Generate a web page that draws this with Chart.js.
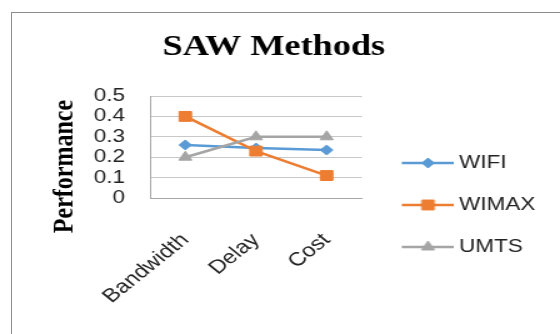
<!DOCTYPE html>
<html>
<head>
<meta charset="utf-8">
<script src="https://cdn.jsdelivr.net/npm/chart.js@4.4.1/dist/chart.umd.min.js"></script>
<style>
    html, body { margin: 0; padding: 0; background: #fff; }
    body { width: 560px; height: 334px; overflow: hidden; position: relative; }
    .frame { position: absolute; left: 11px; top: 12px; width: 600px; height: 400px; border: 1px solid #8c8c8c; }
    /* the source picture is stretched sideways, so the chart is too */
    .stretch { position: absolute; left: 0; top: 0; width: 448px; height: 334px; transform: scaleX(1.25); transform-origin: 0 0; }
</style>
</head>
<body>
<div class="frame"></div>
<div class="stretch"><canvas id="sawChart"></canvas></div>
<script>
const categories = ['Bandwidth', 'Delay', 'Cost'];
const wifiValues = [0.26, 0.245, 0.235];
const wimaxValues = [0.4, 0.23, 0.11];
const umtsValues = [0.2, 0.3, 0.3];
const yTicks = [0, 0.1, 0.2, 0.3, 0.4, 0.5];

const textColor = '#222';

// legend icon: short line with the marker in the middle
function legendIcon(ds) {
    const c = document.createElement('canvas');
    c.width = 55;
    c.height = 16;
    const ctx = c.getContext('2d');
    ctx.strokeStyle = ds.borderColor;
    ctx.lineWidth = 2.5;
    ctx.beginPath();
    ctx.moveTo(13, 8);
    ctx.lineTo(55, 8);
    ctx.stroke();
    ctx.fillStyle = ds.borderColor;
    ctx.lineWidth = 1;
    Chart.helpers.drawPoint(ctx, {
        pointStyle: ds.pointStyle,
        radius: ds.pointRadius,
        borderWidth: 1,
        rotation: 0
    }, 34, 8);
    return c;
}

// y axis title sits a bit below the middle of the plot
const axisTitle = {
    id: 'axisTitle',
    afterDraw(chart) {
        const ctx = chart.ctx;
        ctx.save();
        ctx.translate(52, 166.5);
        ctx.rotate(-Math.PI / 2);
        ctx.font = 'bold 24px "Liberation Serif"';
        ctx.fillStyle = '#000';
        ctx.textAlign = 'center';
        ctx.textBaseline = 'middle';
        ctx.fillText('Performance', 0, 0);
        ctx.restore();
    }
};

const ctx = document.getElementById('sawChart').getContext('2d');
const sawChart = new Chart(ctx, {
    type: 'line',
    data: {
        labels: categories,
        datasets: [
            {
                label: 'WIFI',
                data: wifiValues,
                borderColor: '#5B9BD5',
                backgroundColor: '#5B9BD5',
                borderWidth: 2.5,
                pointStyle: 'rectRot',
                pointRadius: 5,
                pointBorderWidth: 1,
                order: 3
            },
            {
                label: 'WIMAX',
                data: wimaxValues,
                borderColor: '#ED7D31',
                backgroundColor: '#ED7D31',
                borderWidth: 2.5,
                pointStyle: 'rect',
                pointRadius: 7,
                pointBorderWidth: 1,
                order: 2
            },
            {
                label: 'UMTS',
                data: umtsValues,
                borderColor: '#A5A5A5',
                backgroundColor: '#A5A5A5',
                borderWidth: 2.5,
                pointStyle: 'triangle',
                pointRadius: 6,
                pointBorderWidth: 1,
                order: 1
            }
        ]
    },
    options: {
        responsive: true,
        maintainAspectRatio: false,
        animation: false,
        events: [],
        layout: {
            padding: { right: 9.8, bottom: 0 }
        },
        scales: {
            x: {
                offset: true,
                grid: { display: false, drawTicks: false },
                border: { display: true, color: '#a6a6a6' },
                ticks: {
                    minRotation: 45,
                    maxRotation: 45,
                    padding: 31,
                    color: textColor,
                    font: { family: 'Liberation Sans', size: 19 }
                },
                afterFit: function(scale) {
                    scale.height = 136;
                }
            },
            y: {
                min: 0,
                max: 0.5,
                grid: { color: '#c8c8c8', drawTicks: false },
                border: { display: true, color: '#a6a6a6' },
                ticks: {
                    autoSkip: false,
                    padding: 20,
                    color: textColor,
                    font: { family: 'Liberation Sans', size: 18 },
                    callback: function(value) {
                        return String(value);
                    }
                },
                afterBuildTicks: function(scale) {
                    scale.ticks = yTicks.map(v => ({ value: v }));
                },
                afterFit: function(scale) {
                    scale.width = 120;
                }
            }
        },
        plugins: {
            title: {
                display: true,
                text: 'SAW Methods',
                color: '#000',
                font: { family: 'Liberation Serif', size: 29, weight: 'bold' },
                padding: { top: 30.6, bottom: 30.6 }
            },
            legend: {
                position: 'right',
                align: 'start',
                maxWidth: 300,
                // empty title only pushes the items down
                title: {
                    display: true,
                    text: '',
                    font: { size: 10, lineHeight: 1 },
                    padding: { top: 120, bottom: 0 }
                },
                labels: {
                    usePointStyle: true,
                    pointStyleWidth: 44.6,
                    padding: 24,
                    color: textColor,
                    font: { family: 'Liberation Sans', size: 18 },
                    generateLabels: function(chart) {
                        return chart.data.datasets.map((ds, i) => ({
                            text: ds.label,
                            pointStyle: legendIcon(ds),
                            fillStyle: ds.borderColor,
                            strokeStyle: ds.borderColor,
                            lineWidth: 0,
                            hidden: false,
                            fontColor: textColor,
                            datasetIndex: i
                        }));
                    }
                }
            },
            tooltip: { enabled: false }
        }
    },
    plugins: [axisTitle]
});
</script>
</body>
</html>
